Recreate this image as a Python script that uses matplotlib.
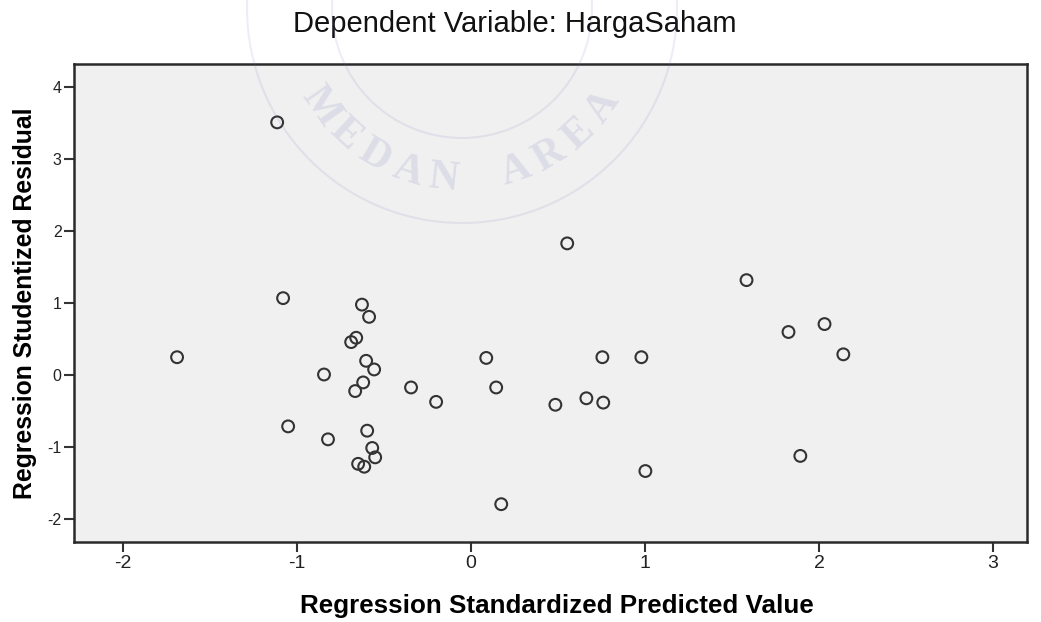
import numpy as np
import matplotlib.pyplot as plt
from matplotlib.patches import Circle

plt.rcParams['font.family'] = ['Liberation Sans', 'DejaVu Sans']
plt.rcParams['axes.unicode_minus'] = False

# standardized predicted value vs studentized residual
pred = [-1.687, -1.112, -1.078, -1.049, -0.843, -0.820, -0.625, -0.584,
        -0.658, -0.687, -0.601, -0.555, -0.618, -0.664, -0.595, -0.566,
        -0.549, -0.647, -0.612, -0.343, -0.199, 0.089, 0.146, 0.175,
        0.554, 0.486, 0.664, 0.756, 0.761, 0.980, 1.003, 1.584,
        1.825, 2.032, 1.893, 2.140]
resid = [0.25, 3.51, 1.07, -0.71, 0.01, -0.89, 0.98, 0.81,
         0.52, 0.46, 0.20, 0.08, -0.10, -0.22, -0.77, -1.01,
         -1.14, -1.23, -1.27, -0.17, -0.37, 0.24, -0.17, -1.79,
         1.83, -0.41, -0.32, 0.25, -0.38, 0.25, -1.33, 1.32,
         0.60, 0.71, -1.12, 0.29]

x_ticks = [-2, -1, 0, 1, 2, 3]
y_ticks = [-2, -1, 0, 1, 2, 3, 4]

W, H = 1041, 622
fig = plt.figure(figsize=(W / 100, H / 100), dpi=100)
ax = fig.add_axes([74 / W, 1 - 542 / H, (1027 - 74) / W, (542 - 64) / H])
ax.set_facecolor('#f0f0f0')

ax.scatter(pred, resid, s=72, facecolors='none', edgecolors='#333333', linewidths=1.5, zorder=3)

ax.set_xlim(-2.279, 3.195)
ax.set_ylim(-2.315, 4.32)
ax.set_xticks(x_ticks)
ax.set_yticks(y_ticks)
ax.tick_params(axis='x', direction='out', length=7.5, width=1.5, color='#333333',
               labelsize=14, pad=2, labelcolor='#222222')
ax.tick_params(axis='y', direction='out', length=7.5, width=1.5, color='#333333',
               labelsize=11.5, pad=1.5, labelcolor='#222222')

for sp in ax.spines.values():
    sp.set_linewidth(1.8)
    sp.set_color('#2a2a2a')

ax.set_xlabel('Regression Standardized Predicted Value', fontsize=18.7, fontweight='bold')
ax.xaxis.set_label_coords(0.5068, -0.108)
ax.set_ylabel('Regression Studentized Residual', fontsize=17.8, fontweight='bold')
ax.yaxis.set_label_coords(-0.0388, 0.5)
fig.text(514.5 / W, 1 - 32 / H, 'Dependent Variable: HargaSaham', fontsize=21,
         ha='center', va='baseline', color='#111111')

# faint watermark of the source document (logo ring + curved text)
wm_col = '#7070b8'
cx, cy, r = 462, 8, 172
for rr in (130, 215):
    ring = Circle((cx / 100, (H - cy) / 100), rr / 100, transform=fig.dpi_scale_trans,
                  fill=False, lw=1.5, ec=wm_col, alpha=0.12, zorder=5)
    fig.patches.append(ring)

for i, ch in enumerate('MEDAN AREA'):
    th = np.radians(145 - i * 110 / 9)
    px = cx + r * np.cos(th)
    py = cy + r * np.sin(th)
    fig.text(px / W, 1 - py / H, ch, fontsize=30, family='Liberation Serif',
             fontweight='bold', color=wm_col, alpha=0.15, ha='center', va='center',
             rotation=90 - np.degrees(th), zorder=5)

fig.savefig('out.png', dpi=100)
